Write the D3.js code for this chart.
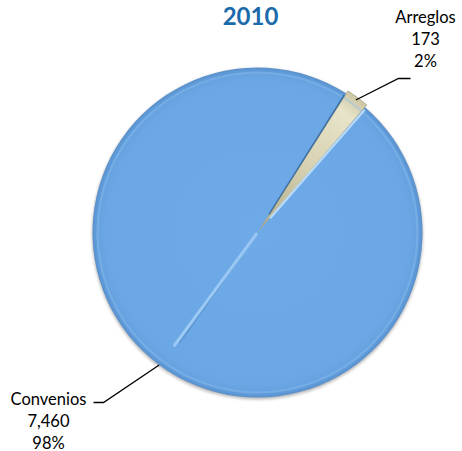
<!DOCTYPE html>
<html>
<head>
<meta charset="utf-8">
<script src="https://cdn.jsdelivr.net/npm/d3@7"></script>
<style>
  html, body { margin: 0; padding: 0; background: #ffffff; }
  svg { display: block; }
  text { font-family: Lato, "Open Sans", sans-serif; }
</style>
</head>
<body>
<svg id="chart" width="462" height="451"></svg>
<script>
// Agreements by type, 2010
const title = "2010";
const categories = ["Arreglos", "Convenios"];
const values = [173, 7460];

const W = 462, H = 451;
const cx = 257.5, cy = 232.5, R = 165;
const firstSliceDeg = 32.5;   // rotation of the first slice, clockwise from top
const explode = [3, 0];       // outward offset per slice

const svg = d3.select("#chart");
const defs = svg.append("defs");

// Shading for the bevelled blue slice
const gBlue = defs.append("radialGradient").attr("id", "gBlue")
  .attr("gradientUnits", "userSpaceOnUse")
  .attr("cx", 0).attr("cy", 0).attr("r", R);
[[0, "#6eaae7"], [0.92, "#6ba7e4"], [0.965, "#66a2e0"], [0.99, "#5c96d4"], [1, "#5a8fc8"]]
  .forEach(([o, c]) => gBlue.append("stop").attr("offset", o).attr("stop-color", c));

// Shading for the thin beige slice
const gTan = defs.append("radialGradient").attr("id", "gTan")
  .attr("gradientUnits", "userSpaceOnUse")
  .attr("cx", 0).attr("cy", 0).attr("r", R);
[[0, "#b3ab88"], [0.5, "#d7d2b2"], [0.88, "#e8e4ca"], [1, "#cdc7a4"]]
  .forEach(([o, c]) => gTan.append("stop").attr("offset", o).attr("stop-color", c));

const blur = defs.append("filter").attr("id", "soft")
  .attr("x", "-20%").attr("y", "-20%").attr("width", "140%").attr("height", "140%");
blur.append("feGaussianBlur").attr("stdDeviation", 1.4);

const thin = defs.append("filter").attr("id", "thin")
  .attr("x", "-20%").attr("y", "-20%").attr("width", "140%").attr("height", "140%");
thin.append("feGaussianBlur").attr("stdDeviation", 0.7);

const total = d3.sum(values);
const rad = d => d * Math.PI / 180;
const start = rad(firstSliceDeg);

const pie = d3.pie().sort(null).value(d => d.value)
  .startAngle(start).endAngle(start + 2 * Math.PI);
const arcs = pie(categories.map((c, i) => ({ name: c, value: values[i], i })));

const arc = d3.arc().innerRadius(0).outerRadius(R);
const mid = a => (a.startAngle + a.endAngle) / 2;

const g = svg.append("g").attr("transform", `translate(${cx},${cy})`);

// Soft grey halo under the pie
g.append("circle").attr("r", R + 0.5).attr("cy", 1.5)
  .attr("fill", "#9a9a9a").attr("opacity", 0.7).attr("filter", "url(#soft)");

// Slices
const fills = ["url(#gTan)", "url(#gBlue)"];
g.selectAll("path.slice").data(arcs).join("path")
  .attr("class", "slice")
  .attr("transform", d => {
    const [x, y] = d3.pointRadial(mid(d), explode[d.data.i]);
    return `translate(${x},${y})`;
  })
  .attr("d", arc)
  .attr("fill", (d, i) => fills[i])
  .attr("stroke", (d, i) => i === 0 ? "#a8a182" : "none")
  .attr("stroke-width", 0.8);

// Light inner ring along the rim (bevel highlight)
g.append("circle").attr("r", R - 5)
  .attr("fill", "none").attr("stroke", "#8dbff0").attr("stroke-width", 2.2)
  .attr("opacity", 0.4).attr("filter", "url(#thin)");

// Bevel edges along the slice boundaries
const a0 = arcs[0], a1 = arcs[1];
const edge = (ang, r0, r1) => {
  const p0 = d3.pointRadial(ang, r0), p1 = d3.pointRadial(ang, r1);
  return { x1: p0[0], y1: p0[1], x2: p1[0], y2: p1[1] };
};
const edges = [
  // dark crease on the leading side of the thin slice
  Object.assign(edge(a0.startAngle - 0.004, 22, R - 3), { c: "#2f5f93", w: 1.5, o: 0.75 }),
  // light ridge on the start of the blue slice
  Object.assign(edge(a1.startAngle + 0.008, 20, R - 3), { c: "#bcdcfa", w: 2.4, o: 0.95 }),
  // ridge running from the centre down-left
  Object.assign(edge(a1.startAngle + Math.PI - 0.095, 4, R - 30), { c: "#3f74ae", w: 1.2, o: 0.45 }),
  Object.assign(edge(a1.startAngle + Math.PI - 0.075, 2, R - 25), { c: "#a3cff7", w: 3, o: 0.85 })
];
g.selectAll("line.edge").data(edges).join("line")
  .attr("class", "edge")
  .attr("x1", d => d.x1).attr("y1", d => d.y1)
  .attr("x2", d => d.x2).attr("y2", d => d.y2)
  .attr("stroke", d => d.c).attr("stroke-width", d => d.w)
  .attr("opacity", d => d.o).attr("filter", "url(#thin)")
  .attr("stroke-linecap", "round");

// Title
svg.append("text").attr("x", 250.5).attr("y", 24.5)
  .attr("text-anchor", "middle")
  .attr("font-size", 24).attr("font-weight", 700)
  .attr("fill", "#1b6aab").text(title);

// Data labels with leader lines
const fmt = d3.format(",");
const labelLayout = [
  { elbow: [141, -154], end: [153, -154], tx: 168, ty: -210 },
  { elbow: [-154, 170], end: [-164, 170], tx: -209, ty: 172 }
];
arcs.forEach((a, i) => {
  const L = labelLayout[i];
  const p = d3.pointRadial(mid(a), R);
  g.append("path")
    .attr("d", d3.line()([p, L.elbow, L.end]))
    .attr("fill", "none").attr("stroke", "#000").attr("stroke-width", 1.3);
  const lines = [a.data.name, fmt(a.data.value), Math.round(a.data.value / total * 100) + "%"];
  const t = g.append("text").attr("text-anchor", "middle")
    .attr("font-size", 16.5).attr("fill", "#000");
  lines.forEach((s, k) => {
    t.append("tspan").attr("x", L.tx).attr("y", L.ty + k * 22).text(s);
  });
});
</script>
</body>
</html>
